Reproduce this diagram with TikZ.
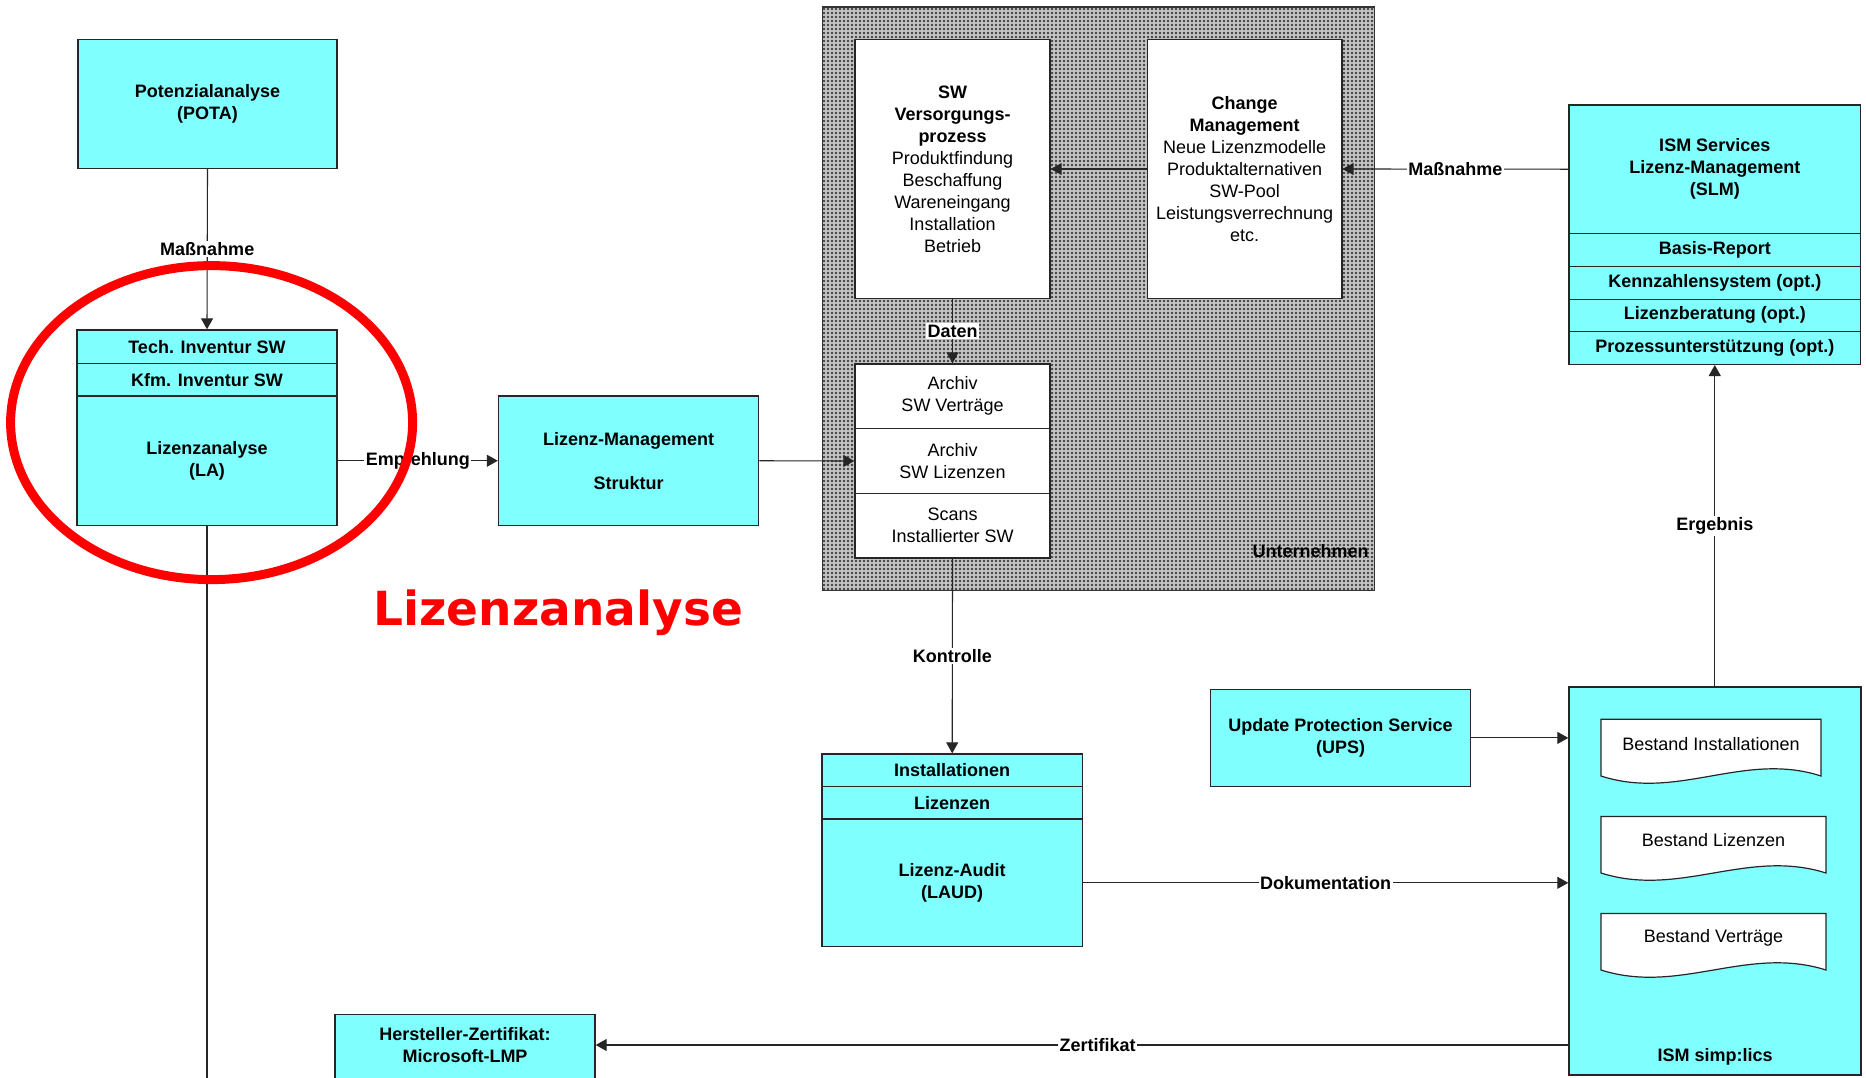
\documentclass[tikz,border=0pt]{standalone}
\usepackage{fontspec}
\setmainfont{Liberation Sans}
\newfontfamily\titlefont{DejaVu Sans}
\usetikzlibrary{arrows.meta,patterns,calc}
\pgfdeclarepatternformonly{unterdots}{\pgfqpoint{-1pt}{-1pt}}{\pgfqpoint{1pt}{1pt}}{\pgfqpoint{2pt}{2pt}}{\pgfpathcircle{\pgfqpoint{0pt}{0pt}}{0.7pt}\pgfusepath{fill}}
\definecolor{boxcyan}{HTML}{80FFFF}
\definecolor{redmark}{HTML}{FF0000}
\newcommand\basefont{\fontsize{9}{11}\selectfont}
\newcommand\mydoc[5]{% left, top, right, bottom, name
  \draw[black!85, line width=0.6pt, fill=white] (#3,#4) -- (#3,#2) -- (#1,#2) -- (#1,#4)
    .. controls ({#1+0.35*(#3-#1)},{#4+25}) and ({#1+0.65*(#3-#1)},{#4-25}) .. (#3,#4) -- cycle;
  \coordinate (#5) at ({(#1+#3)/2},{#2}) ;
}
\tikzset{
  wh/.style 2 args={minimum width=#1*0.5pt, minimum height=#2*0.5pt},
  cbox/.style={draw=black!85, line width=0.7pt, fill=boxcyan, inner sep=0pt, align=center, font=\basefont\bfseries},
  wbox/.style={draw=black!85, line width=0.7pt, fill=white, inner sep=0pt, align=center, font=\basefont},
  conn/.style={draw=black!85, line width=0.55pt},
  arr/.style={conn, -{Triangle[length=5.5pt,width=6pt]}},
  lbl/.style={fill=white, inner sep=0.8pt, font=\basefont\bfseries},
  plain/.style={inner sep=0pt, align=center, font=\basefont},
}
\begin{document}
\begin{tikzpicture}[x=0.5pt,y=-0.5pt,font=\basefont]
\useasboundingbox (0,0) rectangle (1866,1077);
\fill[white] (0,0) rectangle (1866,1077);
\clip (0,0) rectangle (1866,1077);

% Unternehmen (shaded)
\node[wh={552}{583.5}, inner sep=0pt, fill=gray!45, draw=black!80, line width=0.6pt,
      postaction={pattern=unterdots, pattern color=black!75}] (unt) at (1098.4,298.65) {};
\node[anchor=east, inner sep=0pt, font=\basefont\bfseries] (untlbl) at (1369,551) {Unternehmen};

\node[wbox, wh={195}{259}] (sw) at (952.5,169)
  {\textbf{SW}\\\textbf{Versorgungs-}\\\textbf{prozess}\\Produktfindung\\Beschaffung\\Wareneingang\\Installation\\Betrieb};
\node[wbox, wh={194.4}{259}] (cm) at (1244.6,169)
  {\textbf{Change}\\\textbf{Management}\\Neue Lizenzmodelle\\Produktalternativen\\SW-Pool\\Leistungsverrechnung\\etc.};
\node[wbox, wh={195}{64.6}] (a1) at (952.5,396.3) {Archiv\\SW Verträge};
\node[wbox, wh={195}{64.7}] (a2) at (952.5,461) {Archiv\\SW Lizenzen};
\node[wbox, wh={195}{64.7}] (a3) at (952.5,525.65) {Scans\\Installierter SW};

% left column
\node[cbox, wh={259}{129}] (pota) at (207.5,104) {Potenzialanalyse\\(POTA)};
\node[cbox, wh={260}{33.6}] (tech) at (207,346.8) {Tech. Inventur SW};
\node[cbox, wh={260}{32.4}] (kfm) at (207,379.8) {Kfm. Inventur SW};
\node[cbox, wh={260}{129.5}] (la) at (207,460.75) {Lizenzanalyse\\(LA)};
\node[cbox, wh={260.2}{129.5}] (lm) at (628.6,460.75) {Lizenz-Management\\\mbox{}\\Struktur};

% ISM services
\node[cbox, wh={291.5}{128.4}] (ism) at (1714.75,169.2) {ISM Services\\Lizenz-Management\\(SLM)};
\node[cbox, wh={291.5}{33.3}] (ism1) at (1714.75,250.05) {Basis-Report};
\node[cbox, wh={291.5}{32.6}] (ism2) at (1714.75,283) {Kennzahlensystem (opt.)};
\node[cbox, wh={291.5}{32.1}] (ism3) at (1714.75,315.35) {Lizenzberatung (opt.)};
\node[cbox, wh={291.5}{32.9}] (ism4) at (1714.75,347.85) {Prozessunterstützung (opt.)};

% Audit
\node[cbox, wh={260.4}{32.3}] (laudi) at (952.2,770.15) {Installationen};
\node[cbox, wh={260.4}{32.7}] (laudl) at (952.2,802.65) {Lizenzen};
\node[cbox, wh={260.4}{127.6}] (laud) at (952.2,882.8) {Lizenz-Audit\\(LAUD)};

\node[cbox, wh={260}{96.8}] (ups) at (1340.5,737.9) {Update Protection Service\\(UPS)};

% ISM simp:lics
\node[cbox, wh={292}{388.2}] (simp) at (1715,880.9) {};
\node[plain, font=\basefont\bfseries] (simptxt) at (1715,1057) {ISM simp:lics};
\mydoc{1601}{719.3}{1821}{776}{d1top}
\node[plain] (d1) at (1711,744) {Bestand Installationen};
\mydoc{1601}{816.5}{1826}{873}{d2top}
\node[plain] (d2) at (1713.5,839.7) {Bestand Lizenzen};
\mydoc{1601}{913.4}{1826}{970}{d3top}
\node[plain] (d3) at (1713.5,938) {Bestand Verträge};

% Hersteller
\node[cbox, wh={260}{160}, anchor=north] (hz) at (465,1014) {};
\node[plain, font=\basefont\bfseries] (hztxt) at (465,1045) {Hersteller-Zertifikat:\\Microsoft-LMP};

% connectors
\draw[arr] (pota.south) -- node[lbl] {Maßnahme} (tech.north);
\draw[arr] (la.east) -- node[lbl] {Empfehlung} (lm.west);
\draw[arr] (lm.east) -- (a2.west);
\draw[arr] (sw.south) -- node[lbl] {Daten} (a1.north);
\draw[arr] (cm.west) -- (sw.east);
\draw[arr] (ism.west) -- node[lbl] {Maßnahme} (cm.east);
\draw[arr] (a3.south) -- node[lbl] {Kontrolle} (laudi.north);
\draw[arr] (laud.east) -- node[lbl] {Dokumentation} (simp.west |- laud.east);
\draw[arr] (ups.east) -- (simp.west |- ups.east);
\draw[arr] (ism4.south |- simp.north) -- node[lbl] {Ergebnis} (ism4.south);
\draw[arr] (simp.west |- hztxt.center) -- node[lbl, pos=0.484] {Zertifikat} (hz.east |- hztxt.center);
\coordinate (laend) at (207,1085);
\draw[conn] (la.south) -- (la.south |- laend);

% red highlight
\draw[redmark, line width=4.5pt] (211.6,422.6) ellipse [x radius=201, y radius=157];
\node[anchor=base west, inner sep=0pt, text=redmark, font=\titlefont\fontsize{23.5}{28}\selectfont\bfseries] (title) at (373,625.6) {Lizenzanalyse};
\end{tikzpicture}
\end{document}
